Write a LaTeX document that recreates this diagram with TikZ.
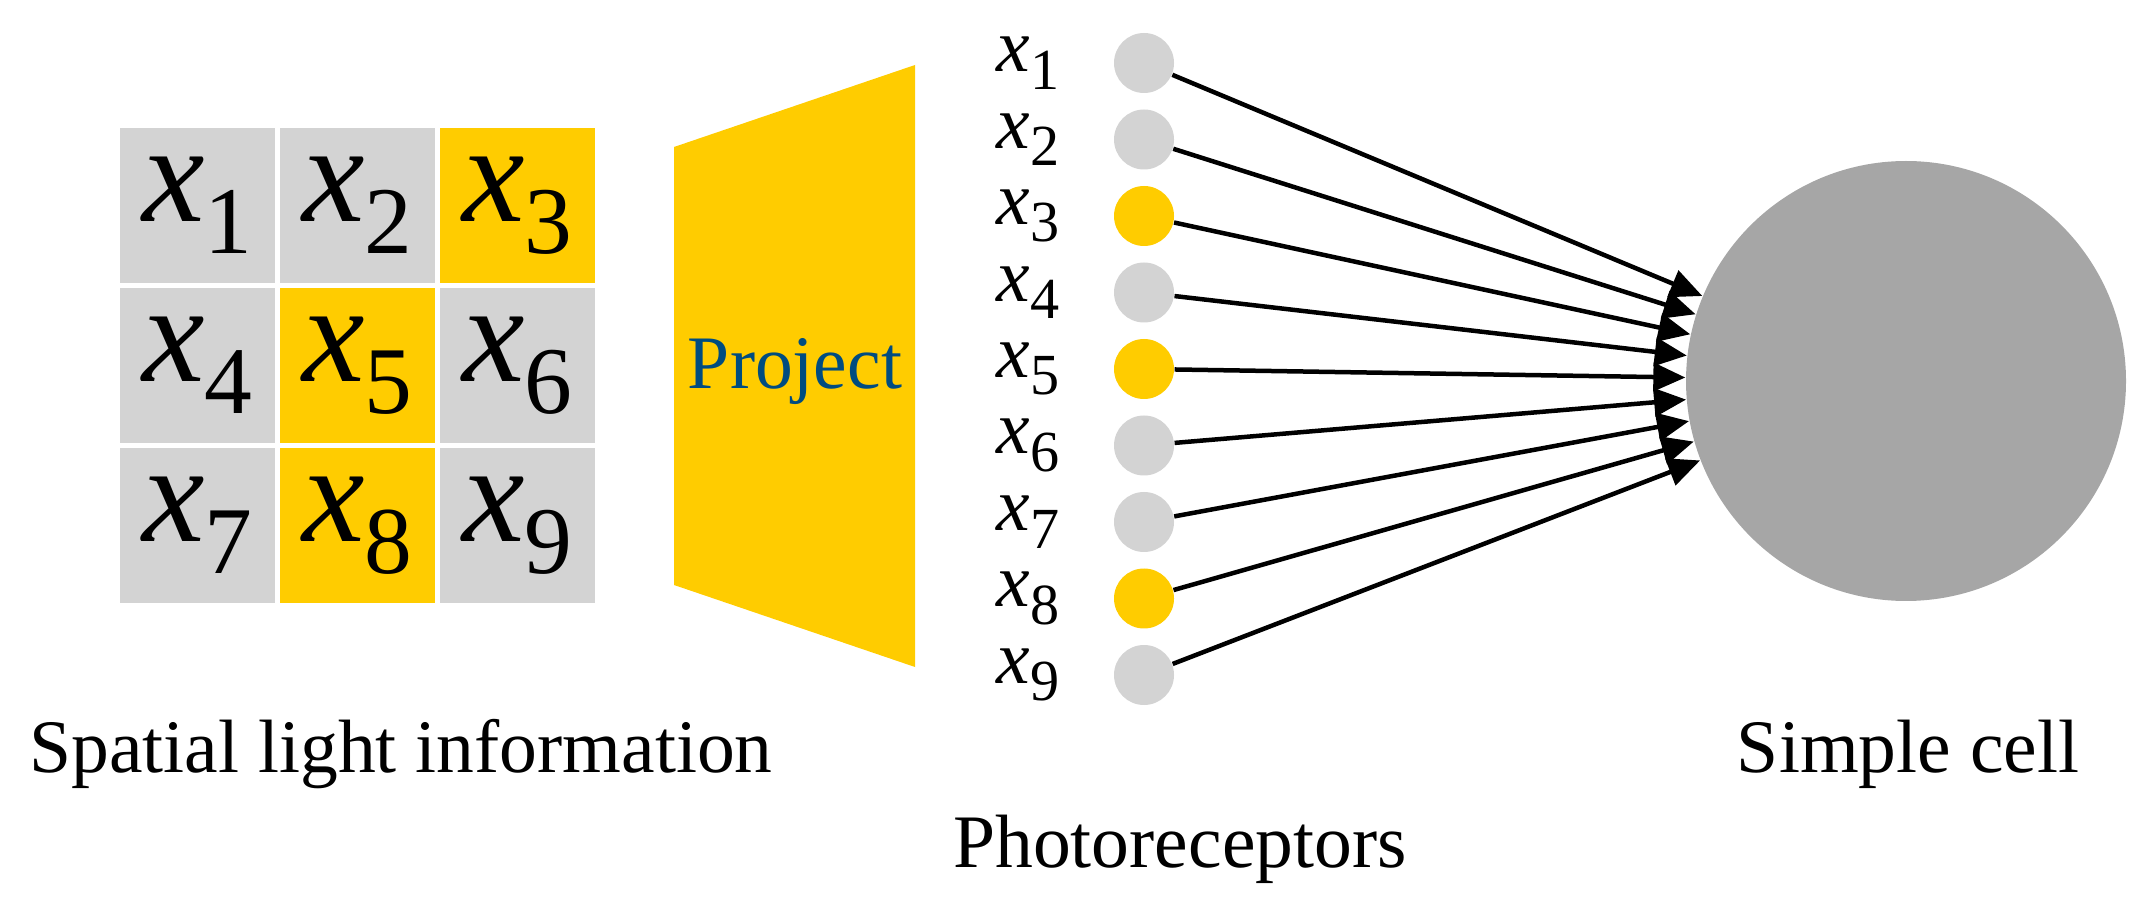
\documentclass[tikz,border=0pt]{standalone}
\usepackage{fontspec}
\setmainfont{Liberation Serif}
\usepackage{xcolor}
\usepackage{tikz}
\usetikzlibrary{arrows.meta,positioning}
\definecolor{amber}{RGB}{255,204,0}
\definecolor{cellgray}{RGB}{211,211,211}
\definecolor{somagray}{RGB}{166,166,166}
\definecolor{projblue}{RGB}{0,76,128}
\newcommand{\xsub}[2][0.7]{\textit{x}\raisebox{-0.23em}{\scalebox{#1}{#2}}}

\begin{document}
\begin{tikzpicture}[x=0.1mm, y=-0.1mm,
  pixel/.style={minimum size=15.5mm, inner sep=0pt, fill=cellgray,
    font=\fontsize{40}{48}\selectfont},
  receptor/.style={circle, minimum size=6mm, inner sep=0pt, fill=cellgray},
  unlit/.style={},
  lit/.style={fill=amber},
  tag/.style={inner sep=0pt, font=\fontsize{21.5}{26}\selectfont},
  caption/.style={inner sep=0pt, anchor=base, font=\fontsize{21.5}{26}\selectfont},
  synapse/.style={line width=0.45mm, -{Triangle[length=3.2mm,width=2.8mm]}}]
  \useasboundingbox (0,0) rectangle (2152,915);
  \foreach \i/\r/\c/\s in {1/0/0/unlit, 2/0/1/unlit, 3/0/2/lit,
                           4/1/0/unlit, 5/1/1/lit,   6/1/2/unlit,
                           7/2/0/unlit, 8/2/1/lit,   9/2/2/unlit}
    \node[pixel, \s] (px\i) at ({197.5+160*\c},{205.5+160*\r}) {\xsub[0.68]{\i}};
  \node[caption] (spatial) at (401,772) {Spatial light information};

  \fill[amber] (674,147) -- (915,65) -- (915,667) -- (674,585) -- cycle;
  \node[caption, text=projblue] (proj) at (795,389) {Project};

  \foreach \i/\s in {1/unlit, 2/unlit, 3/lit, 4/unlit, 5/lit,
                     6/unlit, 7/unlit, 8/lit, 9/unlit} {
    \node[receptor, \s] (pr\i) at (1144,{63+76.5*(\i-1)}) {};
    \node[tag, left=5.3mm of pr\i] (lab\i) {\xsub[0.77]{\i}};
  }
  \node[caption] (photo) at (1180,867) {Photoreceptors};

  \node[circle, fill=somagray, minimum size=44mm, inner sep=0pt] (soma) at (1906,381) {};
  \node[caption] (simple) at (1908,772) {Simple cell};

  \foreach \i in {1,...,9}
    \draw[synapse] (pr\i) -- (soma);
\end{tikzpicture}
\end{document}
